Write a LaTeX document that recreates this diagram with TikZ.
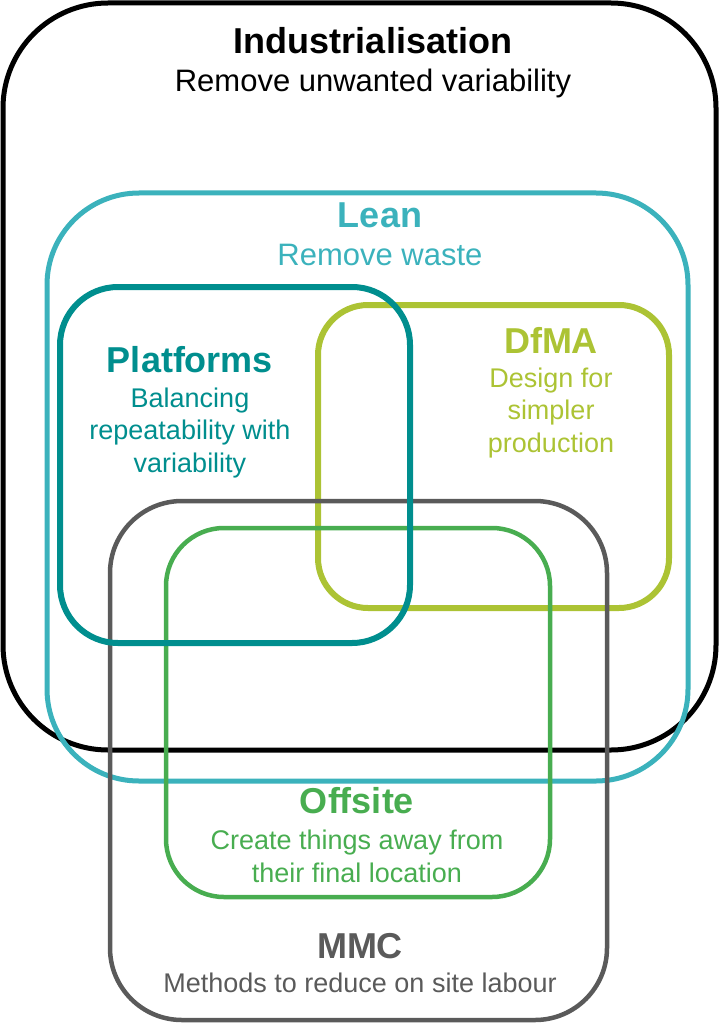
\documentclass[tikz,border=0pt]{standalone}
\usepackage{fontspec}
\setmainfont{Liberation Sans}
\usepackage{tikz}
\usepackage{xcolor}
\usetikzlibrary{positioning}
\definecolor{leancol}{RGB}{59,178,188}
\definecolor{platcol}{RGB}{0,142,142}
\definecolor{dfmacol}{RGB}{172,195,52}
\definecolor{offcol}{RGB}{72,173,80}
\definecolor{mmccol}{RGB}{90,90,90}
\tikzstyle{setbox} = [rectangle, draw, inner sep=0pt, fill=none]
\tikzstyle{title} = [inner sep=0pt, anchor=base, font=\fontsize{36}{40}\selectfont\bfseries]
\tikzstyle{subtitle} = [inner sep=0pt, anchor=base, align=center, font=\fontsize{27}{32.5}\selectfont]
\tikzstyle{bigsubtitle} = [subtitle, font=\fontsize{31}{34}\selectfont]

\begin{document}
\begin{tikzpicture}[x=1pt, y=-1pt]
        \useasboundingbox (0,0) rectangle (721,1024);
        % boxes
        \node (industrial) [setbox, draw=black, line width=5pt, rounded corners=105pt, minimum width=713pt, minimum height=747pt] at (359.5,376.5) {};
        \node (lean) [setbox, draw=leancol, line width=5pt, rounded corners=92pt, minimum width=641pt, minimum height=588pt] at (367.5,487) {};
        \node (dfma) [setbox, draw=dfmacol, line width=6pt, rounded corners=50pt, minimum width=351pt, minimum height=303pt] at (493.5,456.5) {};
        \node (mmc) [setbox, draw=mmccol, line width=4.5pt, rounded corners=72pt, minimum width=497pt, minimum height=519pt] at (358.5,760.5) {};
        \node (offsite) [setbox, draw=offcol, line width=4.5pt, rounded corners=58pt, minimum width=384pt, minimum height=369pt] at (358,712.5) {};
        \node (platforms) [setbox, draw=platcol, line width=6pt, rounded corners=58pt, minimum width=350pt, minimum height=356pt] at (235,465) {};

        % labels (multi-line texts sit on their last baseline)
        \node (industrialTitle) [title, text=black] at (373,54) {Industrialisation};
        \node (industrialText) [bigsubtitle, text=black] at (373,92) {Remove unwanted variability};
        \node (leanTitle) [title, text=leancol] at (380,228) {Lean};
        \node (leanText) [bigsubtitle, text=leancol] at (380,265) {Remove waste};
        \node (platformsTitle) [title, text=platcol] at (190,372) {Platforms};
        \node (platformsText) [subtitle, text=platcol] at (190,472) {Balancing\\repeatability with\\variability};
        \node (dfmaTitle) [title, text=dfmacol] at (551,353) {DfMA};
        \node (dfmaText) [subtitle, text=dfmacol] at (551,452) {Design for\\simpler\\production};
        \node (offsiteTitle) [title, text=offcol] at (357,813) {Offsite};
        \node (offsiteText) [subtitle, text=offcol] at (357,882) {Create things away from\\their final location};
        \node (mmcTitle) [title, text=mmccol] at (360,958) {MMC};
        \node (mmcText) [subtitle, text=mmccol] at (360,992) {Methods to reduce on site labour};
    \end{tikzpicture}
\end{document}
